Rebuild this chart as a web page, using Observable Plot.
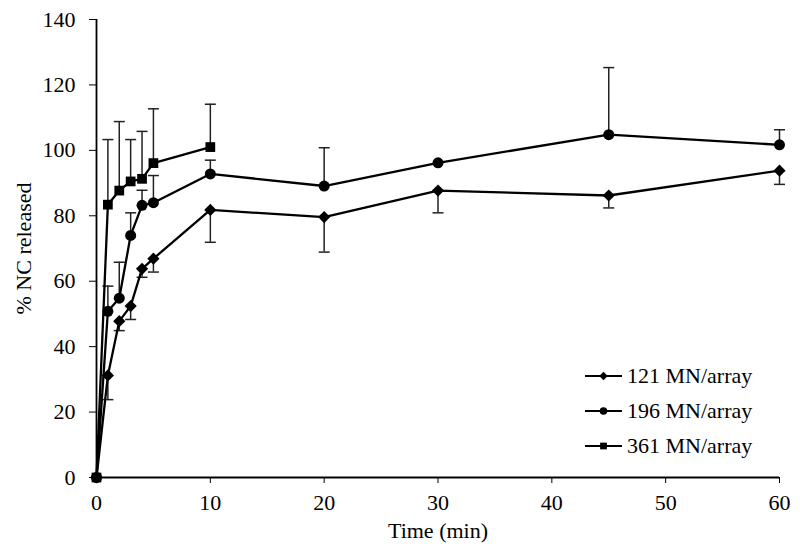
<!DOCTYPE html>
<html>
<head>
<meta charset="utf-8">
<script src="https://cdn.jsdelivr.net/npm/d3@7"></script>
<script src="https://cdn.jsdelivr.net/npm/@observablehq/plot@0.6"></script>
<style>
  html, body { margin: 0; padding: 0; background: #fff; }
  #wrap { position: relative; width: 800px; height: 557px; font-family: "Liberation Serif", "Times New Roman", serif; }
  #legend { position: absolute; left: 585px; top: 358px; font-size: 22px; color: #000; }
  .row { display: flex; align-items: center; height: 35px; }
  .row svg { margin-right: 4px; }
</style>
</head>
<body>
<div id="wrap"></div>
<script>
// ---- data ----
const seriesNames = ["121 MN/array", "196 MN/array", "361 MN/array"];
const seriesSymbols = ["diamond2", "circle", "square"];

const time121 = [0, 1, 2, 3, 4, 5, 10, 20, 30, 45, 60];
const release121 = [0, 31.2, 47.8, 52.4, 63.8, 66.9, 81.8, 79.6, 87.7, 86.2, 93.8];
const err121 = [0, 7.4, 2.9, 4.1, 2.6, 4.1, 9.9, 10.7, 6.8, 3.8, 4.2]; // drawn downward

const time196 = [0, 1, 2, 3, 4, 5, 10, 20, 30, 45, 60];
const release196 = [0, 50.8, 54.8, 74.0, 83.2, 84.0, 92.8, 89.1, 96.2, 104.8, 101.7];
const err196 = [0, 7.7, 11.0, 6.9, 4.6, 8.3, 4.2, 11.7, 0, 20.5, 4.6]; // drawn upward

const time361 = [0, 1, 2, 3, 4, 5, 10];
const release361 = [0, 83.4, 87.7, 90.5, 91.3, 96.1, 101.0];
const err361 = [0, 19.9, 21.1, 12.8, 14.5, 16.6, 13.1]; // drawn upward

const xTicks = [0, 10, 20, 30, 40, 50, 60];
const yTicks = [0, 20, 40, 60, 80, 100, 120, 140];

// ---- build tables ----
function rows(name, times, vals, errs, dir) {
  return times.map((t, i) => ({
    series: name, time: t, value: vals[i], err: errs[i],
    end: vals[i] + dir * errs[i]
  }));
}
const data = [
  ...rows(seriesNames[0], time121, release121, err121, -1),
  ...rows(seriesNames[1], time196, release196, err196, 1),
  ...rows(seriesNames[2], time361, release361, err361, 1)
];
const bars = data.filter(d => d.err > 0);

const capSymbol = {
  draw(context) { context.moveTo(-5.5, 0); context.lineTo(5.5, 0); }
};

const font = "Liberation Serif";

const chart = Plot.plot({
  width: 800,
  height: 557,
  marginLeft: 96,
  marginRight: 21,
  marginTop: 19,
  marginBottom: 80,
  style: { fontFamily: font, fontSize: "22px", color: "#000", background: "#fff", overflow: "visible" },
  x: { domain: [0, 60] },
  y: { domain: [0, 140] },
  symbol: { type: "identity" },
  marks: [
    Plot.axisX({ ticks: xTicks, tickSize: 6, tickPadding: 11, tickFormat: d => String(d),
      label: "Time (min)", labelAnchor: "center", labelArrow: "none", labelOffset: 60, fontSize: 22 }),
    Plot.axisY({ ticks: yTicks, tickSize: 7, tickPadding: 14, tickFormat: d => String(d),
      label: "% NC released", labelAnchor: "center", labelArrow: "none", labelOffset: 81, fontSize: 22 }),
    Plot.ruleX(bars, { x: "time", y1: "value", y2: "end", stroke: "#222", strokeWidth: 1.5 }),
    Plot.dot(bars, { x: "time", y: "end", symbol: capSymbol, stroke: "#222", strokeWidth: 1.5, fill: "none" }),
    Plot.ruleX([0], { stroke: "#000", strokeWidth: 1.8 }),
    Plot.ruleY([0], { stroke: "#000", strokeWidth: 1.8 }),
    Plot.line(data, { x: "time", y: "value", z: "series", stroke: "#000", strokeWidth: 2.3 }),
    Plot.dot(data, { x: "time", y: "value",
      symbol: d => seriesSymbols[seriesNames.indexOf(d.series)],
      fill: "#000", stroke: "none", r: 5.5 })
  ]
});

const wrap = document.getElementById("wrap");
wrap.appendChild(chart);

// ---- legend ----
const legendSymbols = [d3.symbolDiamond2, d3.symbolCircle, d3.symbolSquare];
const legend = document.createElement("div");
legend.id = "legend";
seriesNames.forEach((name, i) => {
  const row = document.createElement("div");
  row.className = "row";
  const s = d3.create("svg").attr("width", 38).attr("height", 20);
  s.append("line").attr("x1", 0).attr("x2", 37).attr("y1", 10).attr("y2", 10)
    .attr("stroke", "#000").attr("stroke-width", 2);
  s.append("path").attr("transform", "translate(18.5,10)")
    .attr("d", d3.symbol(legendSymbols[i], Math.PI * 3.8 * 3.8)())
    .attr("fill", "#000");
  row.appendChild(s.node());
  const t = document.createElement("span");
  t.textContent = name;
  row.appendChild(t);
  legend.appendChild(row);
});
wrap.appendChild(legend);
</script>
</body>
</html>
